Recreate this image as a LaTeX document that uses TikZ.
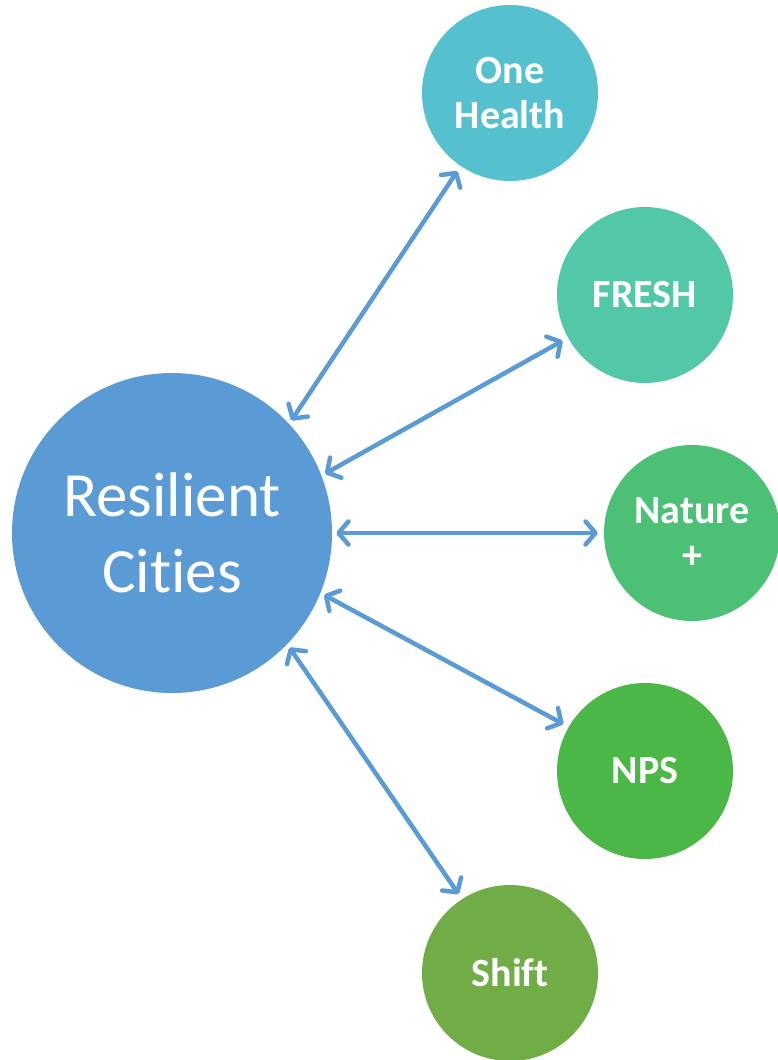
\documentclass[tikz,border=0pt]{standalone}
\usepackage{fontspec}
\setmainfont{Carlito}[Ligatures=NoCommon]
\usepackage{tikz}
\usetikzlibrary{shapes, arrows.meta, positioning, calc}

\definecolor{cityblue}{HTML}{5B9BD5}
\definecolor{healthcol}{HTML}{55C1CF}
\definecolor{freshcol}{HTML}{52C8A9}
\definecolor{naturecol}{HTML}{4CC176}
\definecolor{npscol}{HTML}{4BB747}
\definecolor{shiftcol}{HTML}{70AD47}

\begin{document}
\begin{tikzpicture}[
    x=1pt, y=-1pt,
    hub/.style={circle, fill=cityblue, text=white, minimum size=320pt, inner sep=0pt, align=center, font=\fontsize{63}{76}\selectfont},
    spoke/.style={circle, minimum size=176pt, inner sep=0pt, text=white, align=center, font=\fontsize{40}{45}\selectfont\bfseries},
    link/.style={draw=cityblue, line width=4.5pt, {Straight Barb[length=10pt, width=23pt, round]}-{Straight Barb[length=10pt, width=23pt, round]}, shorten <=4pt, shorten >=6pt}
]
    \useasboundingbox (0,0) rectangle (777,1060);

    % Main node
    \node (cities) [hub] at (172,533) {Resilient\\Cities};

    % Project nodes
    \node (health) [spoke, fill=healthcol] at (510,93) {One\\Health};
    \node (fresh) [spoke, fill=freshcol] at (645,295) {FRESH};
    \node (nature) [spoke, fill=naturecol] at (692,533) {Nature\\+};
    \node (nps) [spoke, fill=npscol] at (645,771) {NPS};
    \node (shift) [spoke, fill=shiftcol] at (510,973) {Shift};

    % Paths
    \draw[link] (cities.43.5) -- (health.236.6);
    \draw[link] (cities.21.7) -- (fresh.209.5);
    \draw[link] (cities.0) -- (nature.180);
    \draw[link] (cities.-22) -- (nps.150.5);
    \draw[link] (cities.-44.3) -- (shift.123);
\end{tikzpicture}
\end{document}
